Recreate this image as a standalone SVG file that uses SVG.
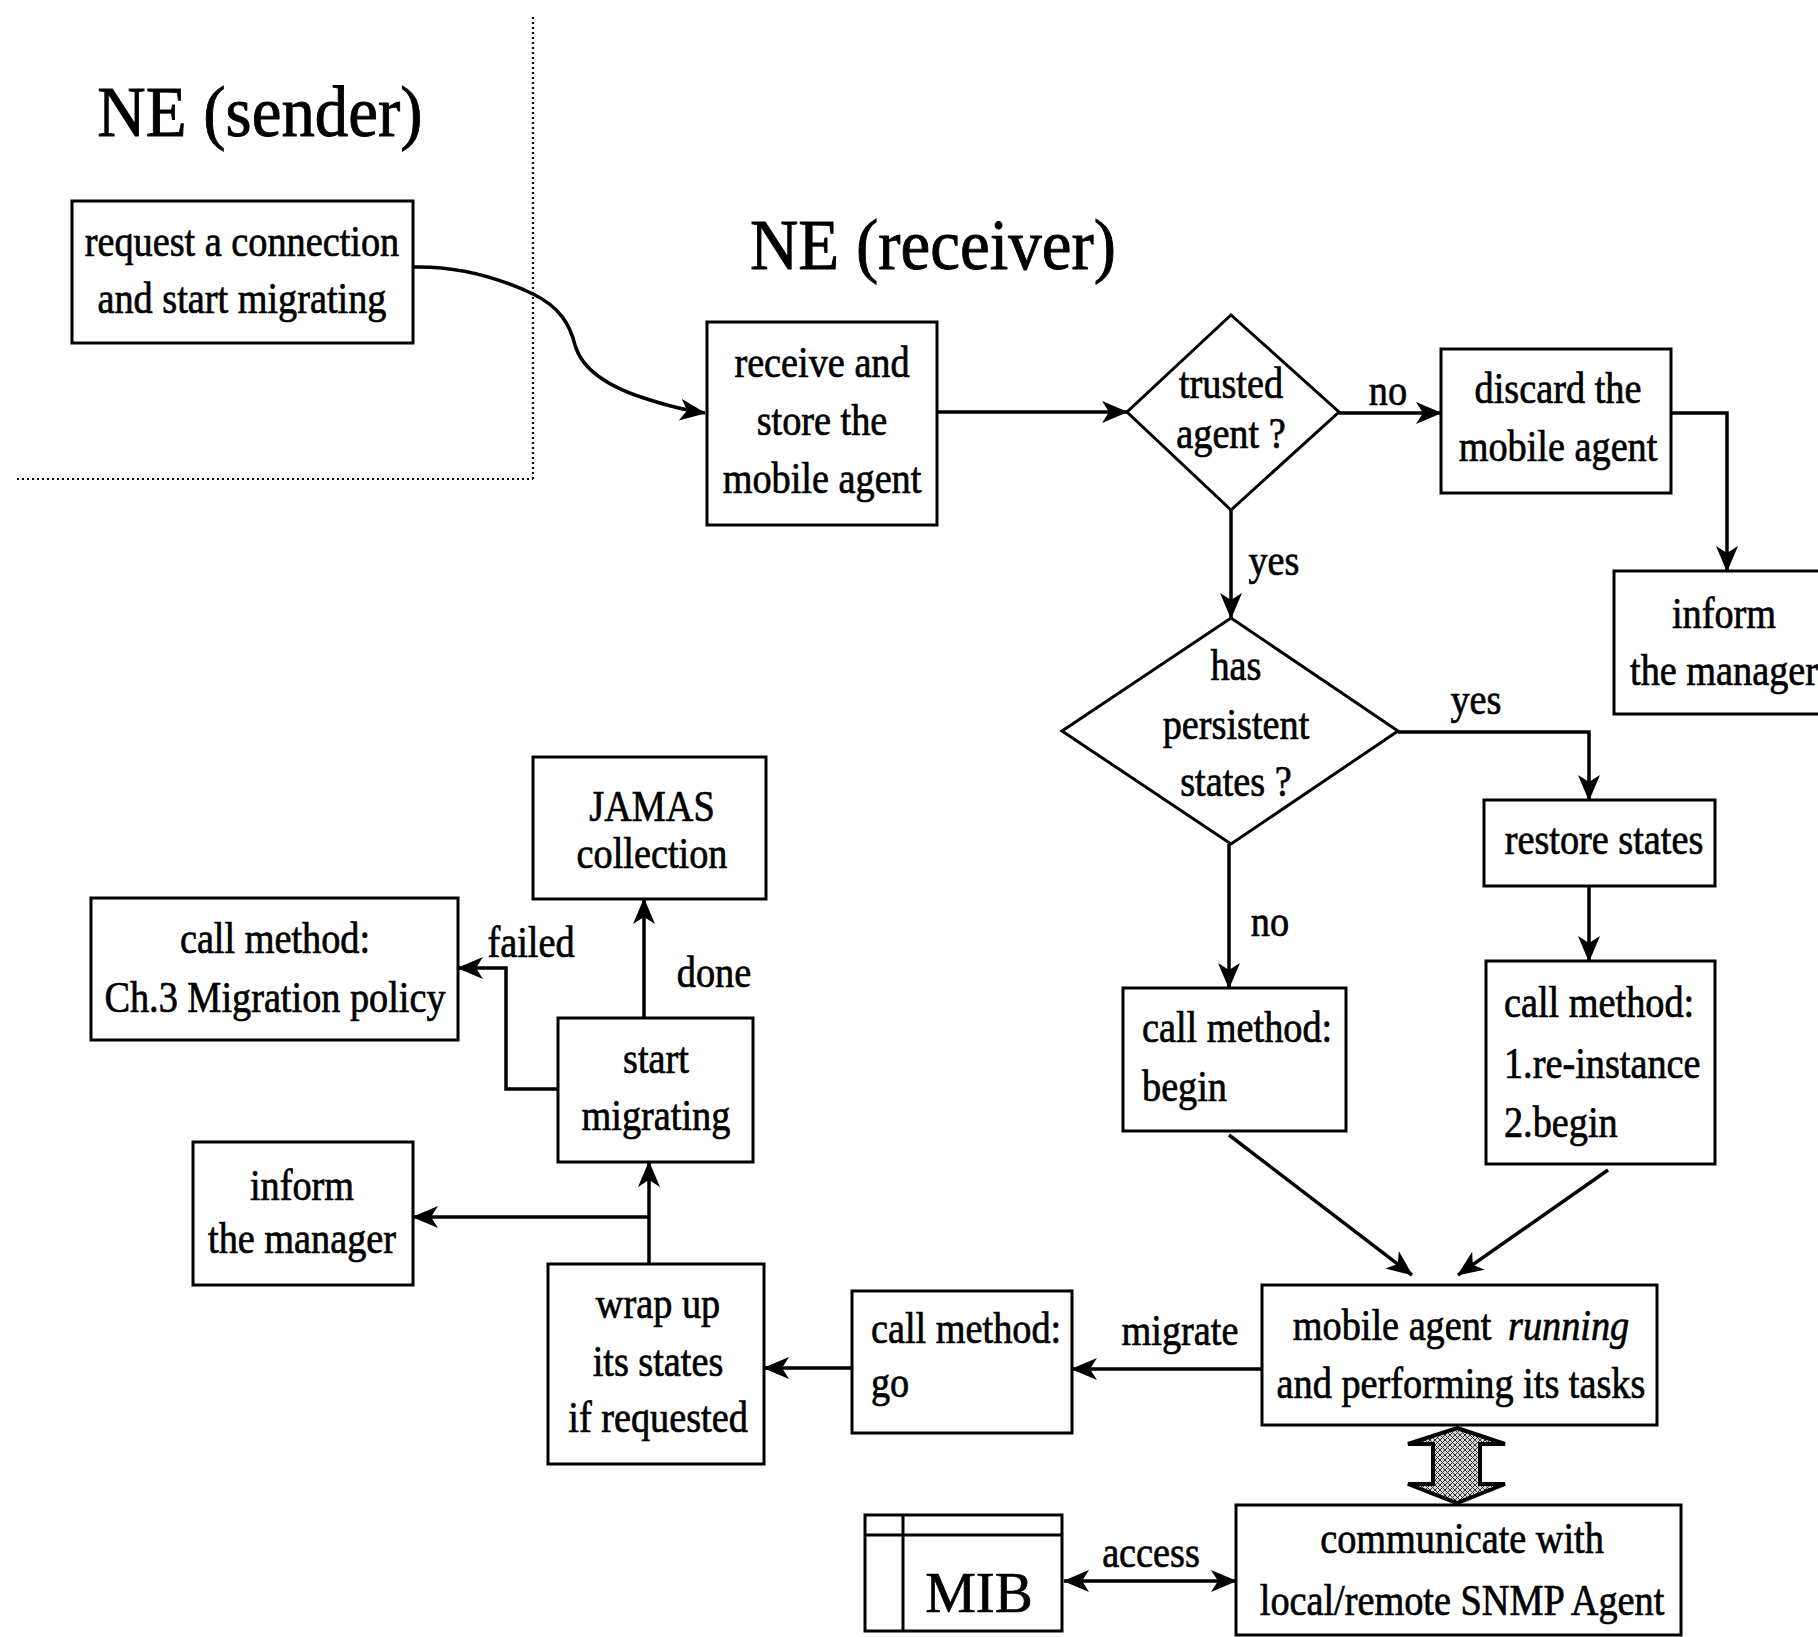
<svg xmlns="http://www.w3.org/2000/svg" width="1818" height="1637" viewBox="0 0 1818 1637">
<style>
  .bg { fill: #ffffff; }
  .box { fill: #ffffff; stroke: #000; stroke-width: 3; }
  .t { font-family: "Liberation Serif", "Times New Roman", serif; font-size: 44px; fill: #000; stroke: #000; stroke-width: 0.7px; text-anchor: middle; transform-box: fill-box; transform-origin: center; transform: scaleX(0.87); }
  .tl { text-anchor: start; transform-origin: left center; }
  .title { font-size: 72px; stroke-width: 0.9px; transform: scaleX(0.93); }
  .mib { font-size: 57px; transform: none; }
  .it { font-style: italic; }
  .line { fill: none; stroke: #000; stroke-width: 3.5; }
  .arr { marker-end: url(#ah); }
  .dot { fill: none; stroke: #000; stroke-width: 2.2; stroke-dasharray: 2 3; }
</style>
<defs>
  <marker id="ah" markerUnits="userSpaceOnUse" markerWidth="28" markerHeight="24" refX="25" refY="11" orient="auto-start-reverse">
    <path d="M0,0 L26,11 L0,22 L7,11 Z" fill="#000"/>
  </marker>
  <pattern id="hatch" patternUnits="userSpaceOnUse" width="5" height="5">
    <rect width="5" height="5" fill="#d8d8d8"/>
    <path d="M0,0 L5,5 M5,0 L0,5" stroke="#333" stroke-width="1"/>
  </pattern>
</defs>
<rect class="bg" x="0" y="0" width="1818" height="1637"/>

<g id="boundary">
  <path class="dot" d="M533,17 L533,479"/>
  <path class="dot" d="M17,479 L533,479"/>
</g>

<g id="titles">
  <text class="t title" x="260" y="136">NE (sender)</text>
  <text class="t title" x="933" y="269">NE (receiver)</text>
</g>

<g id="connectors">
  <path class="line arr" d="M413,267 C455,266 495,276 533,294 C560,307 570,325 575,345 C582,370 610,388 650,400 C672,407 690,411 705,413"/>
  <path class="line arr" d="M937,412 L1127,412"/>
  <path class="line arr" d="M1339,413 L1441,413"/>
  <path class="line arr" d="M1671,413 L1727,413 L1727,571"/>
  <path class="line arr" d="M1231,510 L1231,618"/>
  <path class="line arr" d="M1398,732 L1589,732 L1589,800"/>
  <path class="line arr" d="M1589,886 L1589,961"/>
  <path class="line arr" d="M1229,844 L1229,988"/>
  <path class="line arr" d="M1229,1135 L1412,1275"/>
  <path class="line arr" d="M1608,1170 L1458,1275"/>
  <path class="line arr" d="M1262,1369 L1072,1369"/>
  <path class="line arr" d="M852,1368 L764,1368"/>
  <path class="line arr" d="M649,1264 L649,1162"/>
  <path class="line arr" d="M649,1217 L413,1217"/>
  <path class="line arr" d="M644,1018 L644,899"/>
  <path class="line arr" d="M558,1089 L506,1089 L506,968 L458,968"/>
  <path class="line arr" style="marker-start:url(#ah)" d="M1064,1581 L1236,1581"/>
  <polygon points="1457,1428 1505,1444 1480,1444 1480,1484 1505,1484 1457,1503 1408,1484 1433,1484 1433,1444 1408,1444" fill="url(#hatch)" stroke="#000" stroke-width="4" stroke-linejoin="miter"/>
  <text class="t" x="1388" y="405">no</text>
  <text class="t" x="1274" y="575">yes</text>
  <text class="t" x="1476" y="714">yes</text>
  <text class="t" x="1270" y="936">no</text>
  <text class="t" x="531" y="957">failed</text>
  <text class="t" x="714" y="987">done</text>
  <text class="t" x="1180" y="1345">migrate</text>
  <text class="t" x="1151" y="1567">access</text>
</g>

<g id="n-request">
  <rect class="box" x="72" y="201" width="341" height="142"/>
  <text class="t" x="242" y="256">request a connection</text>
  <text class="t" x="242" y="313">and start migrating</text>
</g>

<g id="n-receive">
  <rect class="box" x="707" y="322" width="230" height="203"/>
  <text class="t" x="822" y="377">receive and</text>
  <text class="t" x="822" y="435">store the</text>
  <text class="t" x="822" y="493">mobile agent</text>
</g>

<g id="n-trusted">
  <polygon class="box" points="1231,315 1339,412 1231,510 1127,412"/>
  <text class="t" x="1231" y="398">trusted</text>
  <text class="t" x="1231" y="448">agent ?</text>
</g>

<g id="n-discard">
  <rect class="box" x="1441" y="349" width="230" height="144"/>
  <text class="t" x="1558" y="403">discard the</text>
  <text class="t" x="1558" y="461">mobile agent</text>
</g>

<g id="n-inform-right">
  <rect class="box" x="1614" y="571" width="240" height="143"/>
  <text class="t" x="1724" y="628">inform</text>
  <text class="t" x="1724" y="685">the manager</text>
</g>

<g id="n-persistent">
  <polygon class="box" points="1231,618 1398,731 1231,844 1062,731"/>
  <text class="t" x="1236" y="680">has</text>
  <text class="t" x="1236" y="739">persistent</text>
  <text class="t" x="1236" y="796">states ?</text>
</g>

<g id="n-restore">
  <rect class="box" x="1484" y="800" width="231" height="86"/>
  <text class="t" x="1604" y="854">restore states</text>
</g>

<g id="n-reinstance">
  <rect class="box" x="1486" y="961" width="229" height="203"/>
  <text class="t tl" x="1504" y="1017">call method:</text>
  <text class="t tl" x="1504" y="1078">1.re-instance</text>
  <text class="t tl" x="1504" y="1137">2.begin</text>
</g>

<g id="n-begin">
  <rect class="box" x="1123" y="988" width="223" height="143"/>
  <text class="t tl" x="1142" y="1042">call method:</text>
  <text class="t tl" x="1142" y="1101">begin</text>
</g>

<g id="n-running">
  <rect class="box" x="1262" y="1285" width="395" height="140"/>
  <text class="t" x="1461" y="1340">mobile agent <tspan class="it" dx="8">running</tspan></text>
  <text class="t" x="1461" y="1398">and performing its tasks</text>
</g>

<g id="n-go">
  <rect class="box" x="852" y="1291" width="220" height="142"/>
  <text class="t tl" x="871" y="1343">call method:</text>
  <text class="t tl" x="871" y="1397">go</text>
</g>

<g id="n-wrap">
  <rect class="box" x="548" y="1264" width="216" height="200"/>
  <text class="t" x="658" y="1318">wrap up</text>
  <text class="t" x="658" y="1376">its states</text>
  <text class="t" x="658" y="1432">if requested</text>
</g>

<g id="n-start">
  <rect class="box" x="558" y="1018" width="195" height="144"/>
  <text class="t" x="656" y="1073">start</text>
  <text class="t" x="656" y="1130">migrating</text>
</g>

<g id="n-inform-left">
  <rect class="box" x="193" y="1142" width="220" height="143"/>
  <text class="t" x="302" y="1200">inform</text>
  <text class="t" x="302" y="1253">the manager</text>
</g>

<g id="n-jamas">
  <rect class="box" x="533" y="757" width="233" height="142"/>
  <text class="t" x="652" y="821">JAMAS</text>
  <text class="t" x="652" y="868">collection</text>
</g>

<g id="n-policy">
  <rect class="box" x="91" y="898" width="367" height="142"/>
  <text class="t" x="275" y="953">call method:</text>
  <text class="t" x="275" y="1012">Ch.3 Migration policy</text>
</g>

<g id="n-snmp">
  <rect class="box" x="1236" y="1505" width="445" height="130"/>
  <text class="t" x="1462" y="1553">communicate with</text>
  <text class="t" x="1462" y="1615">local/remote SNMP Agent</text>
</g>

<g id="n-mib">
  <rect class="box" x="865" y="1515" width="197" height="116"/>
  <path class="line" style="stroke-width:3" d="M865,1535 L1062,1535 M903,1515 L903,1631"/>
  <text class="t mib" x="979" y="1612">MIB</text>
</g>
</svg>
